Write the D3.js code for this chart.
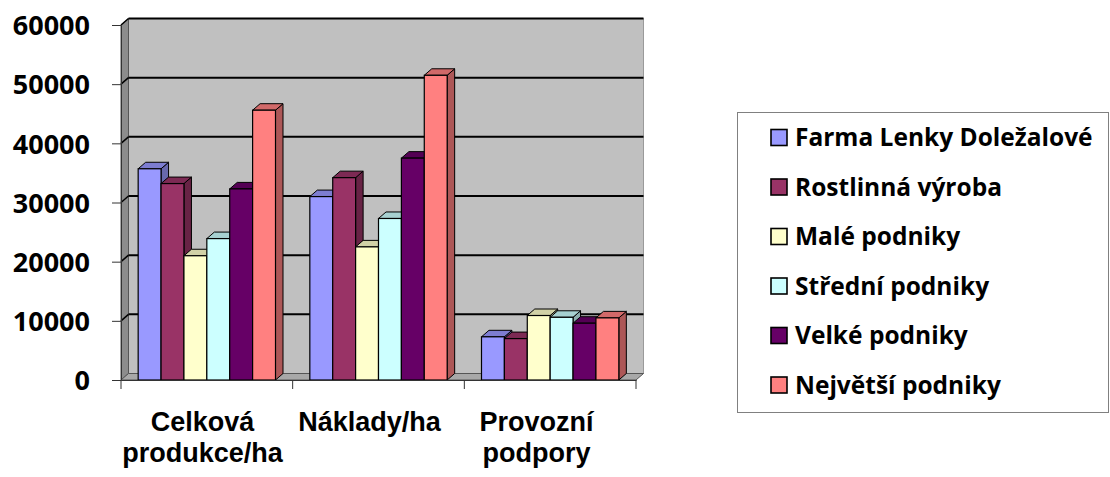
<!DOCTYPE html>
<html>
<head>
<meta charset="utf-8">
<script src="https://cdn.jsdelivr.net/npm/d3@7"></script>
<style>
  html, body { margin: 0; padding: 0; background: #fff; }
  svg { display: block; }
  text { font-family: "Open Sans", "Liberation Sans", sans-serif; font-weight: 700; fill: #000; }
</style>
</head>
<body>
<svg id="chart" width="1110" height="477"></svg>
<script>
// ---- data ----
const categories = ["Celková produkce/ha", "Náklady/ha", "Provozní podpory"];
const categoryLines = [["Celková", "produkce/ha"], ["Náklady/ha"], ["Provozní", "podpory"]];
const seriesNames = ["Farma Lenky Doležalové", "Rostlinná výroba", "Malé podniky", "Střední podniky", "Velké podniky", "Největší podniky"];
const seriesColors = ["#9999FF", "#993366", "#FFFFCC", "#CCFFFF", "#660066", "#FF8080"];
const farma     = [35700, 31000, 7300];
const rostlinna = [33200, 34200, 7000];
const male      = [21000, 22500, 10900];
const stredni   = [23900, 27300, 10600];
const velke     = [32300, 37500, 9600];
const nejvetsi  = [45600, 51500, 10500];
const seriesValues = [farma, rostlinna, male, stredni, velke, nejvetsi];
const yTicks = [0, 10000, 20000, 30000, 40000, 50000, 60000];

// ---- layout ----
const svg = d3.select("#chart");
const x0 = 121, x1 = 636, yBottom = 380, yTop = 25;
const dx = 7.5, dy = -6.5; // 3D depth offset

const y = d3.scaleLinear().domain([0, 60000]).range([yBottom, yTop]);
const xCat = d3.scaleBand().domain(categories).range([x0, x1]).paddingInner(0).paddingOuter(0);
const xSer = d3.scaleBand().domain(seriesNames).range([0, xCat.bandwidth()]).paddingInner(0).paddingOuter(0.75);
const xLabel = d3.scalePoint().domain(categories).range([202.5, 536.5]);

function shade(c, k) {
  const r = d3.rgb(c);
  return d3.rgb(r.r * k, r.g * k, r.b * k).formatHex();
}
const poly = pts => pts.map(p => p.join(",")).join(" ");

// walls
const gWall = svg.append("g");
gWall.append("polygon")
  .attr("points", poly([[x0 + dx, y(60000) + dy], [x1 + dx, y(60000) + dy], [x1 + dx, y(0) + dy], [x0 + dx, y(0) + dy]]))
  .attr("fill", "#C0C0C0").attr("stroke", "#9a9a9a").attr("stroke-width", 1);
gWall.append("polygon")
  .attr("points", poly([[x0, y(60000)], [x0 + dx, y(60000) + dy], [x0 + dx, y(0) + dy], [x0, y(0)]]))
  .attr("fill", "#8c8c8c").attr("stroke", "#555").attr("stroke-width", 1);
gWall.append("polygon")
  .attr("points", poly([[x0, y(0)], [x1, y(0)], [x1 + dx, y(0) + dy], [x0 + dx, y(0) + dy]]))
  .attr("fill", "#a8a8a8").attr("stroke", "#555").attr("stroke-width", 1);

// gridlines
const gGrid = svg.append("g");
yTicks.filter(v => v > 0).forEach(v => {
  gGrid.append("line")
    .attr("x1", x0 + dx).attr("x2", x1 + dx)
    .attr("y1", y(v) + dy).attr("y2", y(v) + dy)
    .attr("stroke", "#000").attr("stroke-width", 2);
  gGrid.append("line")
    .attr("x1", x0).attr("x2", x0 + dx)
    .attr("y1", y(v)).attr("y2", y(v) + dy)
    .attr("stroke", "#000").attr("stroke-width", 1.5);
});

// bars
const gBars = svg.append("g");
categories.forEach((cat, ci) => {
  seriesNames.forEach((s, si) => {
    const v = seriesValues[si][ci];
    const bx = xCat(cat) + xSer(s);
    const w = xSer.bandwidth();
    const top = y(v), bot = y(0);
    const col = seriesColors[si];
    const g = gBars.append("g");
    g.append("polygon")
      .attr("points", poly([[bx + w, top], [bx + w + dx, top + dy], [bx + w + dx, bot + dy], [bx + w, bot]]))
      .attr("fill", shade(col, 0.68)).attr("stroke", "#000").attr("stroke-width", 1).attr("stroke-linejoin", "round");
    g.append("polygon")
      .attr("points", poly([[bx, top], [bx + dx, top + dy], [bx + w + dx, top + dy], [bx + w, top]]))
      .attr("fill", shade(col, 0.82)).attr("stroke", "#000").attr("stroke-width", 1).attr("stroke-linejoin", "round");
    g.append("rect")
      .attr("x", bx).attr("y", top).attr("width", w).attr("height", bot - top)
      .attr("fill", col).attr("stroke", "#000").attr("stroke-width", 1.2);
  });
});

// y axis
const yAxis = d3.axisLeft(y).tickValues(yTicks).tickSize(9).tickPadding(0).tickFormat(d3.format("d"));
const gy = svg.append("g").attr("transform", `translate(${x0},0)`).call(yAxis);
gy.select(".domain").attr("stroke", "#333").attr("stroke-width", 1);
gy.selectAll(".tick line").attr("stroke", "#333");
gy.selectAll(".tick text")
  .attr("x", -31).attr("dy", "0.36em")
  .style("font-size", "27px").style("font-family", "'Open Sans', sans-serif").style("font-weight", "700").attr("fill", "#000");

// x axis
const xAxis = d3.axisBottom(xCat).tickSize(0).tickFormat("");
const gx = svg.append("g").attr("transform", `translate(0,${yBottom})`).call(xAxis);
gx.select(".domain").attr("stroke", "#333").attr("stroke-width", 1);
gx.selectAll(".tick").remove();
const bounds = categories.map(c => xCat(c)).concat([x1]);
gx.selectAll("line.bound").data(bounds).enter().append("line")
  .attr("class", "bound")
  .attr("x1", d => d).attr("x2", d => d).attr("y1", 0).attr("y2", 9)
  .attr("stroke", "#333").attr("stroke-width", 1);

// category labels (one text per line)
const gLab = svg.append("g");
categories.forEach((cat, ci) => {
  categoryLines[ci].forEach((ln, li) => {
    gLab.append("text")
      .attr("x", xLabel(cat)).attr("y", 430.5 + li * 31)
      .attr("text-anchor", "middle")
      .style("font-family", "'Liberation Sans', Arial, sans-serif")
      .style("font-size", "27px")
      .text(ln);
  });
});

// legend
const gLeg = svg.append("g");
gLeg.append("rect")
  .attr("x", 737.5).attr("y", 112.5).attr("width", 371).attr("height", 300)
  .attr("fill", "#fff").attr("stroke", "#808080").attr("stroke-width", 1);
const legY = d3.scalePoint().domain(seriesNames).range([137.5, 385]);
seriesNames.forEach((s, si) => {
  const cy = legY(s);
  gLeg.append("rect")
    .attr("x", 771).attr("y", cy - 8).attr("width", 16).attr("height", 16)
    .attr("fill", seriesColors[si]).attr("stroke", "#000").attr("stroke-width", 1.6);
  gLeg.append("text")
    .attr("x", 795).attr("y", cy).attr("dy", "0.36em")
    .style("font-size", "24.5px")
    .text(s);
});
</script>
</body>
</html>
